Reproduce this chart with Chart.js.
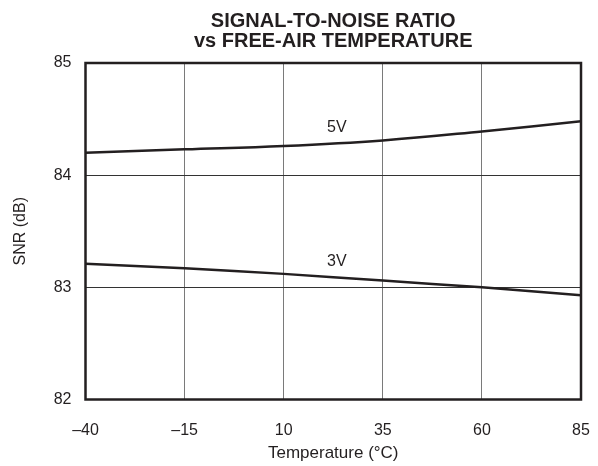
<!DOCTYPE html>
<html>
<head>
<meta charset="utf-8">
<script src="https://cdn.jsdelivr.net/npm/chart.js@4.4.0/dist/chart.umd.min.js"></script>
<style>
html,body{margin:0;padding:0;background:#fff;}
#wrap{width:598px;height:466px;position:relative;}
</style>
</head>
<body>
<div id="wrap"><canvas id="c" width="598" height="466"></canvas></div>
<script>
const titleLines = ["SIGNAL-TO-NOISE RATIO", "vs FREE-AIR TEMPERATURE"];
const temperatures = [-40, -15, 10, 35, 60, 85];
const snr5V = [84.20, 84.23, 84.26, 84.31, 84.39, 84.48];
const snr3V = [83.21, 83.17, 83.12, 83.06, 83.00, 82.93];
const xTicks = [-40, -15, 10, 35, 60, 85];
const yTicks = [82, 83, 84, 85];
const seriesLabels = ["5V", "3V"];
const labelX = [23.4, 23.4];
const labelY = [84.42, 83.23];
const xTitle = "Temperature (°C)";
const yTitle = "SNR (dB)";

const FONT = "'Liberation Sans', Arial, Helvetica, sans-serif";
const INK = "#231f20";

const toPoints = (xs, ys) => xs.map((x, i) => ({x: x, y: ys[i]}));

const overlay = {
  id: 'overlay',
  afterDatasetsDraw(chart) {
    const {ctx, chartArea: a, scales} = chart;
    ctx.save();
    ctx.strokeStyle = INK;
    ctx.lineWidth = 2.5;
    ctx.strokeRect(a.left, a.top, a.right - a.left, a.bottom - a.top);
    ctx.fillStyle = INK;
    ctx.font = "16px " + FONT;
    ctx.textAlign = "center";
    ctx.textBaseline = "middle";
    seriesLabels.forEach((t, i) => {
      ctx.fillText(t, scales.x.getPixelForValue(labelX[i]), scales.y.getPixelForValue(labelY[i]));
    });
    ctx.font = "bold 20px " + FONT;
    ctx.textBaseline = "alphabetic";
    const cx = (a.left + a.right) / 2;
    ctx.fillText(titleLines[0], cx, 27);
    ctx.fillText(titleLines[1], cx, 47);
    ctx.restore();
  }
};

new Chart(document.getElementById('c'), {
  type: 'line',
  data: {
    datasets: [
      {label: seriesLabels[0], data: toPoints(temperatures, snr5V), borderColor: INK, borderWidth: 2.5, pointRadius: 0, tension: 0.4, fill: false},
      {label: seriesLabels[1], data: toPoints(temperatures, snr3V), borderColor: INK, borderWidth: 2.5, pointRadius: 0, tension: 0.4, fill: false}
    ]
  },
  options: {
    responsive: false,
    animation: false,
    devicePixelRatio: 1,
    layout: {padding: {top: 63, right: 17, bottom: 0, left: 0}},
    plugins: {legend: {display: false}, title: {display: false}, tooltip: {enabled: false}},
    scales: {
      x: {
        type: 'linear',
        min: -40, max: 85,
        afterBuildTicks(s) { s.ticks = xTicks.map(v => ({value: v})); },
        afterFit(s) { s.height = 66.5; s.paddingLeft = 0; s.paddingRight = 0; },
        grid: {color: '#7a7a7a', lineWidth: 1, drawTicks: false},
        border: {display: false},
        ticks: {
          color: INK, padding: 21,
          font: {family: FONT, size: 16},
          maxRotation: 0, autoSkip: false,
          callback: v => String(v).replace('-', '\u2013')
        },
        title: {display: true, text: xTitle, color: INK, font: {family: FONT, size: 17}, padding: {top: 0, bottom: 2}}
      },
      y: {
        type: 'linear',
        min: 82, max: 85,
        afterBuildTicks(s) { s.ticks = yTicks.map(v => ({value: v})); },
        afterFit(s) { s.width = 85.5; s.paddingTop = 0; s.paddingBottom = 0; },
        grid: {color: '#333333', lineWidth: 1, drawTicks: false},
        border: {display: false},
        ticks: {
          color: INK, padding: 14,
          font: {family: FONT, size: 16},
          autoSkip: false
        },
        title: {display: true, text: yTitle, color: INK, font: {family: FONT, size: 16}, padding: {top: 11, bottom: 0}}
      }
    }
  },
  plugins: [overlay]
});
</script>
</body>
</html>
